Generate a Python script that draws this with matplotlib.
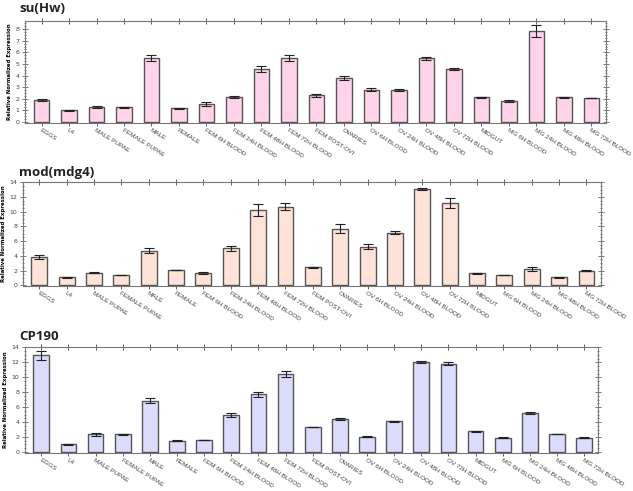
import matplotlib.pyplot as plt
import numpy as np
from matplotlib.ticker import MultipleLocator

# tissue / timepoint categories (same for every gene)
categories = ['EGGS', 'L4', 'MALE PUPAE', 'FEMALE PUPAE', 'MALE', 'FEMALE',
              'FEM 6H BLOOD', 'FEM 24H BLOOD', 'FEM 48H BLOOD', 'FEM 72H BLOOD',
              'FEM POST-OVI', 'OVARIES', 'OV 6H BLOOD', 'OV 24H BLOOD',
              'OV 48H BLOOD', 'OV 72H BLOOD', 'MIDGUT', 'MG 6H BLOOD',
              'MG 24H BLOOD', 'MG 48H BLOOD', 'MG 72H BLOOD']

suhw_vals = [1.9, 1.0, 1.29, 1.26, 5.5, 1.17, 1.55, 2.15, 4.53, 5.5, 2.3,
             3.8, 2.78, 2.76, 5.5, 4.57, 2.12, 1.78, 7.85, 2.12, 2.05]
suhw_err = [0.06, 0.03, 0.06, 0.04, 0.28, 0.04, 0.16, 0.05, 0.26, 0.26, 0.12,
            0.2, 0.1, 0.1, 0.12, 0.1, 0.05, 0.07, 0.5, 0.05, 0.03]

mod_vals = [3.83, 1.08, 1.7, 1.4, 4.68, 2.07, 1.71, 5.0, 10.27, 10.68, 2.45,
            7.66, 5.23, 7.16, 13.06, 11.2, 1.62, 1.4, 2.16, 1.08, 1.98]
mod_err = [0.22, 0.1, 0.06, 0.05, 0.32, 0.06, 0.15, 0.3, 0.8, 0.5, 0.05,
           0.6, 0.35, 0.18, 0.18, 0.7, 0.05, 0.03, 0.27, 0.03, 0.05]

cp_vals = [12.96, 1.0, 2.35, 2.35, 6.83, 1.52, 1.6, 4.96, 7.74, 10.5, 3.35,
           4.43, 2.04, 4.09, 12.04, 11.83, 2.74, 1.91, 5.17, 2.39, 1.91]
cp_err = [0.6, 0.04, 0.22, 0.12, 0.34, 0.03, 0.05, 0.26, 0.35, 0.4, 0.04,
          0.14, 0.05, 0.05, 0.08, 0.16, 0.05, 0.03, 0.12, 0.05, 0.03]

panels = [
    ('su(Hw)', suhw_vals, suhw_err, '#ffd3ea', 8.7, [0.0395, 0.7495, 0.9175, 0.2075], 0.9756),
    ('mod(mdg4)', mod_vals, mod_err, '#ffe3d8', 14, [0.036, 0.4175, 0.913, 0.2115], 0.642),
    ('CP190', cp_vals, cp_err, '#dcdcff', 14.1, [0.0395, 0.078, 0.9055, 0.216], 0.3075),
]

fig = plt.figure(figsize=(6.33, 4.91), dpi=100)
x = np.arange(len(categories))

for title, vals, err, color, ytop, rect, ty in panels:
    ax = fig.add_axes(rect)
    ax.bar(x, vals, width=0.58, color=color, edgecolor='#555555', linewidth=1.0, zorder=2)
    ax.errorbar(x, vals, yerr=err, fmt='none', ecolor='#222222', elinewidth=0.8,
                capsize=3.6, capthick=0.8, zorder=3)
    ax.set_xlim(-0.6, len(categories) - 0.48)
    ax.set_ylim(-0.1, ytop)
    step = 1 if ytop < 10 else 2
    ax.yaxis.set_major_locator(MultipleLocator(step))
    ax.yaxis.set_minor_locator(MultipleLocator(step / 4))
    ax.set_xticks(x)
    ax.set_xticklabels(categories, rotation=-32, ha='left', va='top',
                       rotation_mode='anchor', fontsize=4.6, color='#444444',
                       family='Liberation Sans')
    ax.tick_params(axis='x', top=True, direction='inout', length=4, width=0.6,
                   colors='#444444', pad=1.5)
    ax.tick_params(axis='y', which='both', right=True, direction='inout',
                   width=0.5, colors='#444444', labelsize=4.5, pad=2)
    ax.tick_params(axis='y', which='major', length=4)
    ax.tick_params(axis='y', which='minor', length=2)
    for s in ax.spines.values():
        s.set_color('#777777')
        s.set_linewidth(0.8)
    ax.set_ylabel('Relative Normalized Expression', fontsize=3.9, fontweight='bold',
                  labelpad=2.5)
    fig.text(0.03, ty, title, fontsize=9.5, fontweight='bold', family='Open Sans',
             color='#222222', ha='left', va='baseline')

fig.savefig('out.png', dpi=100)
